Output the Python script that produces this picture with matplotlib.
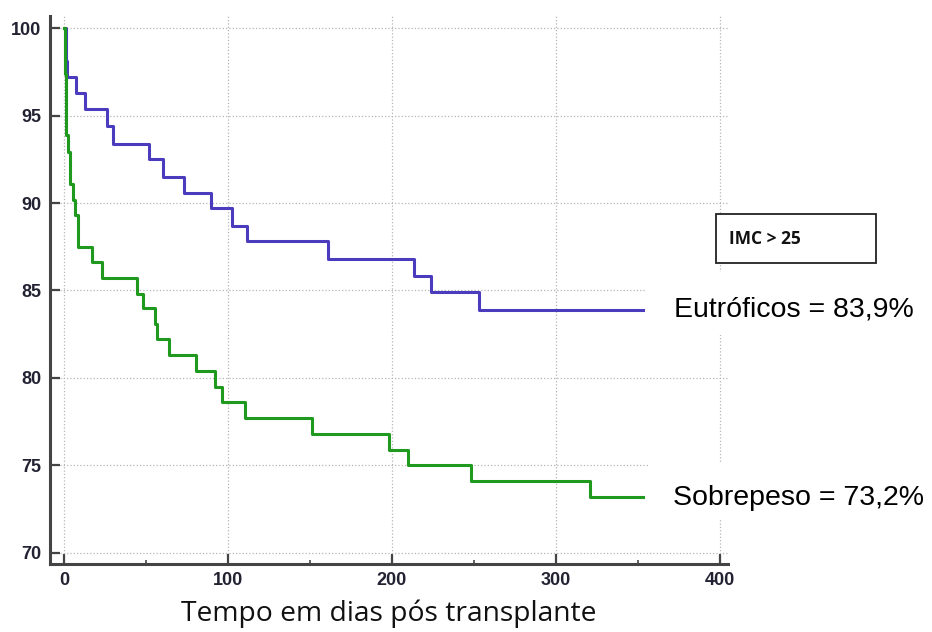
"""
Kaplan-Meier style survival curves: Eutróficos vs Sobrepeso (IMC > 25).
"""
import numpy as np
import matplotlib
matplotlib.use("Agg")
import matplotlib.pyplot as plt
from matplotlib.patches import Rectangle
from matplotlib.ticker import MultipleLocator

# ─── Data ────────────────────────────────────────────────────────────────
END_DAY = 353

eutro_days = [0, 1, 2, 7.3, 12.8, 26, 30, 52, 60.5, 73, 89.5, 102.5, 111.5,
              161, 213.4, 224, 253]
eutro_surv = [100, 98.1, 97.2, 96.3, 95.4, 94.4, 93.4, 92.5, 91.5, 90.6,
              89.7, 88.7, 87.8, 86.8, 85.8, 84.9, 83.9]

sobre_days = [0, 0.5, 1, 2.5, 3.7, 5.5, 6.7, 8.5, 17, 23, 44.5, 48, 55.5,
              56.5, 64, 80.5, 92, 96.5, 110.5, 151.5, 198, 210, 248, 321]
sobre_surv = [100, 97.4, 93.9, 92.9, 91.1, 90.2, 89.3, 87.5, 86.6, 85.7,
              84.8, 84.0, 83.1, 82.2, 81.3, 80.4, 79.5, 78.6, 77.7, 76.8,
              75.9, 75.0, 74.1, 73.2]

labels = ["Eutróficos = 83,9%", "Sobrepeso = 73,2%"]
xticks = [0, 100, 200, 300, 400]
yticks = [70, 75, 80, 85, 90, 95, 100]

C_EUTRO = "#4a3cbd"
C_SOBRE = "#1f9a1f"
C_AXIS = "#444444"

# ─── Plot ────────────────────────────────────────────────────────────────
fig = plt.figure(figsize=(9.32, 6.32), dpi=100)
ax = fig.add_axes([0.0536, 0.1076, 0.7275, 0.8671])

for days, surv, col in [(eutro_days, eutro_surv, C_EUTRO),
                        (sobre_days, sobre_surv, C_SOBRE)]:
    x = list(days) + [END_DAY]
    y = list(surv) + [surv[-1]]
    ax.step(x, y, where="post", color=col, lw=2.2, zorder=3)

ax.set_xlim(-8.5, 405)
ax.set_ylim(69.35, 100.7)
ax.set_xticks(xticks)
ax.set_yticks(yticks)
ax.xaxis.set_minor_locator(MultipleLocator(50))

ax.grid(True, which="major", ls=":", color="#b5b5b5", lw=0.9, zorder=0)
ax.set_axisbelow(True)

for side in ("top", "right"):
    ax.spines[side].set_visible(False)
for side in ("left", "bottom"):
    ax.spines[side].set_color(C_AXIS)
    ax.spines[side].set_linewidth(2.2)

ax.tick_params(which="major", direction="in", length=7, width=1.6,
               color=C_AXIS, pad=6, labelsize=13, labelcolor="#222233")
ax.tick_params(which="minor", direction="in", length=3, width=1.2,
               color=C_AXIS)
for lab in ax.get_xticklabels() + ax.get_yticklabels():
    lab.set_fontweight("bold")
    lab.set_family("Liberation Sans")

ax.set_xlabel("Tempo em dias pós transplante", fontsize=20.3,
              family="Open Sans", color="#111111", labelpad=7)

# White patches behind the end labels (hide gridlines there)
ax.add_patch(Rectangle((354.3, 82.45), 120, 3.6, facecolor="white",
                       edgecolor="none", zorder=2, clip_on=False))
ax.add_patch(Rectangle((357.3, 71.9), 120, 3.25, facecolor="white",
                       edgecolor="none", zorder=2, clip_on=False))

ax.text(372, eutro_surv[-1], labels[0], fontsize=20.5,
        family="Liberation Sans", ha="left", va="center", color="black",
        zorder=4, clip_on=False)
ax.text(371.5, sobre_surv[-1] - 0.1, labels[1], fontsize=20.5,
        family="Liberation Sans", ha="left", va="center", color="black",
        zorder=4, clip_on=False)

# IMC box
ax.add_patch(Rectangle((397.6, 86.57), 97.5, 2.8, facecolor="white",
                       edgecolor="#222222", lw=1.3, zorder=4, clip_on=False))
ax.text(405.5, 87.95, "IMC > 25", fontsize=12.5, family="Open Sans",
        fontweight="bold", ha="left", va="center", color="#111111",
        zorder=5, clip_on=False)

fig.savefig("out.png", dpi=100, facecolor="white")
plt.close(fig)
